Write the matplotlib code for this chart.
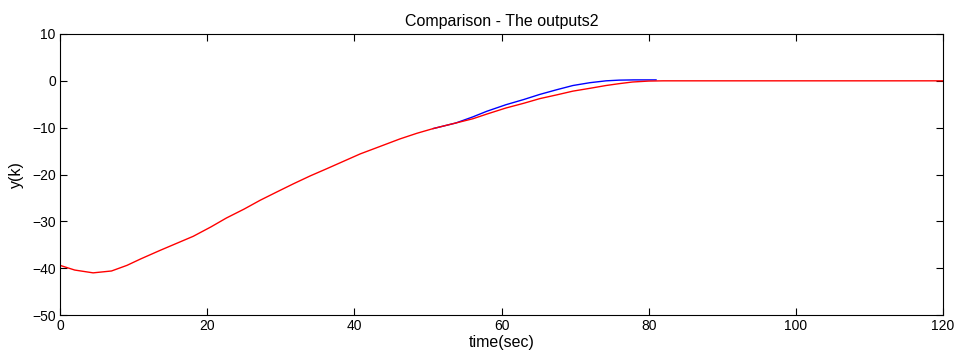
import matplotlib
matplotlib.use('Agg')
import matplotlib.pyplot as plt

# red output (full run)
red_t = [0, 2, 4.5, 7, 9.1, 11, 13.6, 16, 18.1, 20.5, 22.6, 25, 27.2, 29.5, 31.7,
         34, 36.2, 38.5, 40.8, 43, 46.2, 48.5, 50.7, 53.8, 56.1, 58, 60.6, 63,
         65.2, 67.5, 69.7, 72, 74.2, 76, 77.8, 80, 82, 90, 100, 110, 120]
red_y = [-39.4, -40.4, -41.0, -40.6, -39.4, -38.0, -36.2, -34.6, -33.2, -31.2,
         -29.3, -27.4, -25.5, -23.7, -22.0, -20.3, -18.8, -17.2, -15.6, -14.3,
         -12.4, -11.2, -10.2, -9.0, -8.1, -7.1, -5.8, -4.8, -3.8, -3.0, -2.2,
         -1.6, -1.0, -0.6, -0.25, -0.05, 0, 0, 0, 0, 0]

# blue output (same as red until ~54 s, ends at ~81 s)
blue_t = [50.7, 53.8, 56.1, 58, 60.6, 63, 65.2, 67.5, 69.7,
          72, 74.2, 76, 78, 81]
blue_y = [-10.2, -9.0, -7.7, -6.5, -5.1, -4.0, -2.9, -1.9, -1.0,
          -0.4, 0.0, 0.15, 0.2, 0.2]

plt.rcParams['font.family'] = ['Liberation Sans', 'DejaVu Sans']
plt.rcParams['font.size'] = 10

fig = plt.figure(figsize=(9.57, 3.64), dpi=100)
ax = fig.add_axes([0.0627, 0.1346, 0.9227, 0.772])

ax.plot(blue_t, blue_y, color='blue', linewidth=1)
ax.plot(red_t, red_y, color='red', linewidth=1)

ax.set_xlim(0, 120)
ax.set_ylim(-50, 10)
ax.set_xticks(range(0, 121, 20))
ax.set_yticks(range(-50, 11, 10))
ax.tick_params(direction='in', top=True, right=True, length=5, width=0.8,
               labelsize=10, pad=3)
for s in ax.spines.values():
    s.set_linewidth(0.8)

ax.set_title('Comparison - The outputs2', fontsize=11.5, pad=6)
ax.set_xlabel('time(sec)', fontsize=11.5, labelpad=1)
ax.set_ylabel('y(k)', fontsize=11.5, labelpad=6)

fig.savefig('out.png', dpi=100)
